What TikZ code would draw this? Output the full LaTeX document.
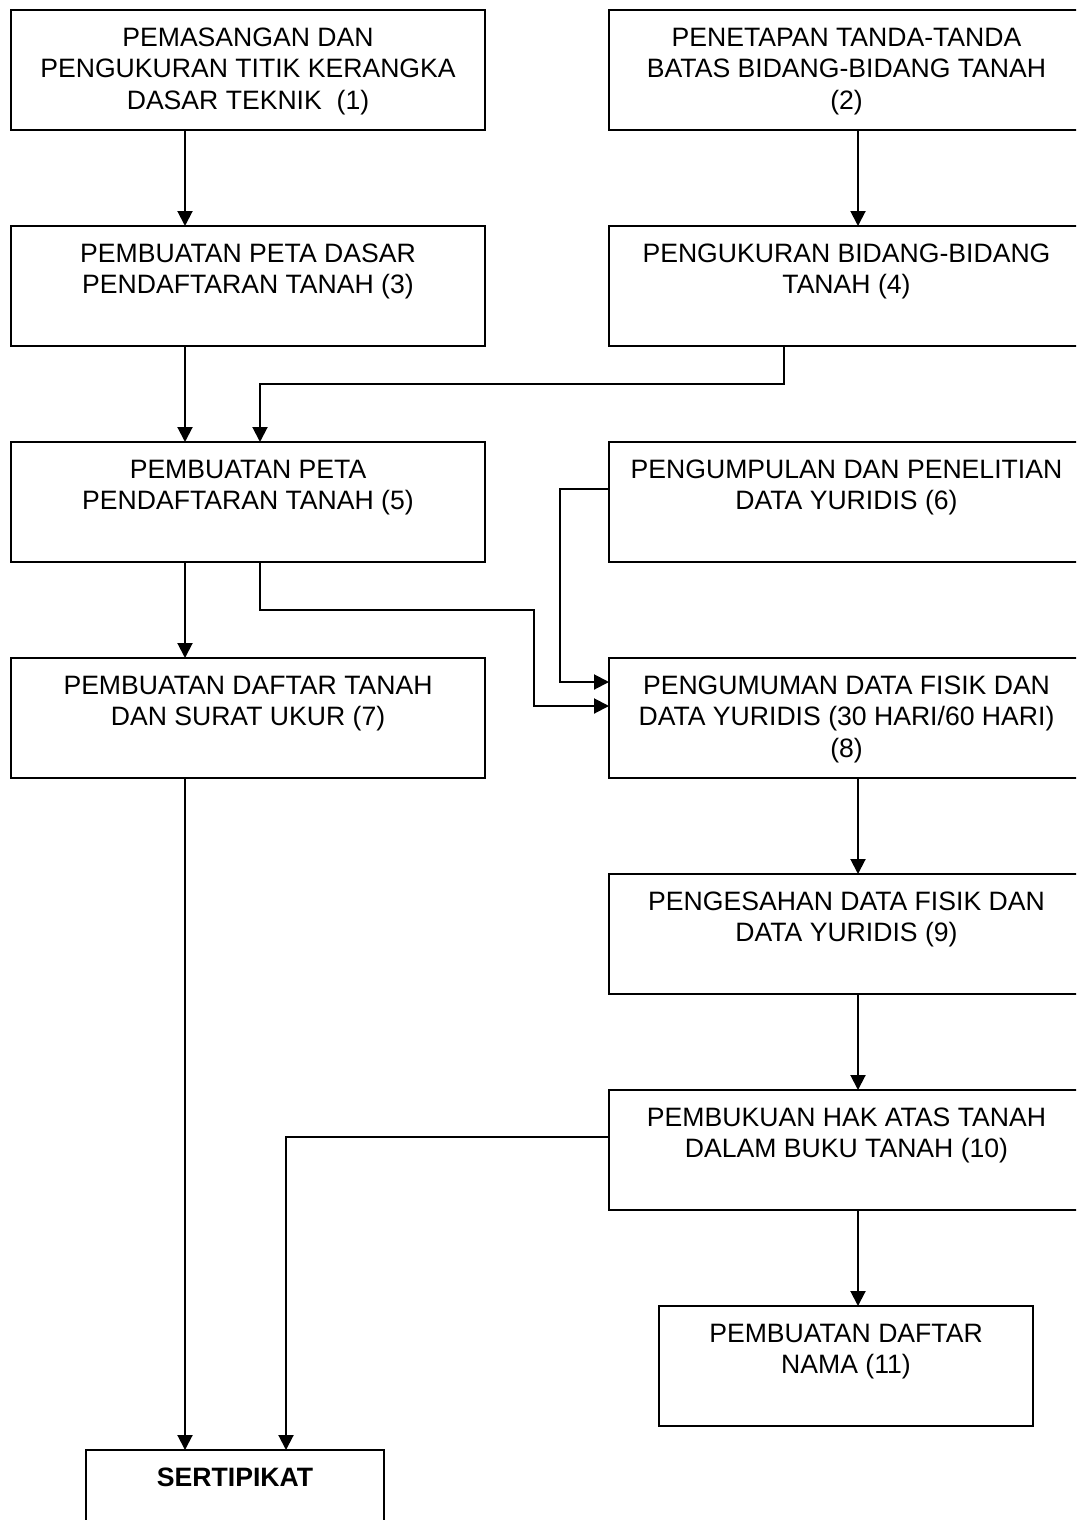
\documentclass[tikz,border=0pt]{standalone}
\usepackage{fontspec}
\setmainfont{Liberation Sans}
\usetikzlibrary{arrows.meta}
\begin{document}
\begin{tikzpicture}[x=0.5pt,y=-0.5pt,
 box/.style={draw, line width=1pt, rectangle, inner sep=0pt, outer sep=0pt, anchor=north west, minimum height=60pt},
 wbox/.style={box, minimum width=237pt},
 rbox/.style={box, minimum width=237.5pt},
 lbl/.style={anchor=north, inner sep=0pt, align=center, font=\fontsize{13.3pt}{15.75pt}\selectfont, yshift=-8.75pt},
 arr/.style={line width=1pt, -{Triangle[length=7.5pt,width=7.5pt]}}]
\useasboundingbox (0,0) rectangle (1076,1520);
\fill[white] (0,0) rectangle (1076,1520);
\clip (0,0) rectangle (1076,1520);
% boxes
\node[wbox] (b1) at (11,10) {};
\node[rbox] (b2) at (609,10) {};
\node[wbox] (b3) at (11,226) {};
\node[rbox] (b4) at (609,226) {};
\node[wbox] (b5) at (11,442) {};
\node[rbox] (b6) at (609,442) {};
\node[wbox] (b7) at (11,658) {};
\node[rbox] (b8) at (609,658) {};
\node[rbox] (b9) at (609,874) {};
\node[rbox] (b10) at (609,1090) {};
\node[box, minimum width=187pt] (b11) at (659,1306) {};
\node[box, minimum width=149pt] (bs) at (86,1450) {};
% texts
\node[lbl] (t1) at (b1.north) {PEMASANGAN DAN\\PENGUKURAN TITIK KERANGKA\\DASAR TEKNIK\ \ (1)};
\node[lbl] (t2) at (b2.north) {PENETAPAN TANDA-TANDA\\BATAS BIDANG-BIDANG TANAH\\(2)};
\node[lbl] (t3) at (b3.north) {PEMBUATAN PETA DASAR\\PENDAFTARAN TANAH (3)};
\node[lbl] (t4) at (b4.north) {PENGUKURAN BIDANG-BIDANG\\TANAH (4)};
\node[lbl] (t5) at (b5.north) {PEMBUATAN PETA\\PENDAFTARAN TANAH (5)};
\node[lbl] (t6) at (b6.north) {PENGUMPULAN DAN PENELITIAN\\DATA YURIDIS (6)};
\node[lbl] (t7) at (b7.north) {PEMBUATAN DAFTAR TANAH\\DAN SURAT UKUR (7)};
\node[lbl] (t8) at (b8.north) {PENGUMUMAN DATA FISIK DAN\\DATA YURIDIS (30 HARI/60 HARI)\\(8)};
\node[lbl] (t9) at (b9.north) {PENGESAHAN DATA FISIK DAN\\DATA YURIDIS (9)};
\node[lbl] (t10) at (b10.north) {PEMBUKUAN HAK ATAS TANAH\\DALAM BUKU TANAH (10)};
\node[lbl] (t11) at (b11.north) {PEMBUATAN DAFTAR\\NAMA (11)};
\node[lbl, font=\fontsize{13.3pt}{15.75pt}\selectfont\bfseries] (ts) at (bs.north) {SERTIPIKAT};
% connectors
\draw[arr] ([xshift=87pt]b1.south west) -- ([xshift=87pt]b3.north west);
\draw[arr] ([xshift=124.5pt]b2.south west) -- ([xshift=124.5pt]b4.north west);
\draw[arr] ([xshift=87pt]b3.south west) -- ([xshift=87pt]b5.north west);
\draw[arr] ([xshift=87.5pt]b4.south west) -- ++(0,38) -| ([xshift=124.5pt]b5.north west);
\draw[arr] ([xshift=87pt]b5.south west) -- ([xshift=87pt]b7.north west);
\draw[arr] ([yshift=-23.5pt]b6.north west) -- ++(-49,0) |- ([yshift=-12pt]b8.north west);
\draw[arr] ([xshift=124.5pt]b5.south west) -- ++(0,48) -- ++(274,0) |- ([yshift=-24pt]b8.north west);
\draw[arr] ([xshift=124.5pt]b8.south west) -- ([xshift=124.5pt]b9.north west);
\draw[arr] ([xshift=124.5pt]b9.south west) -- ([xshift=124.5pt]b10.north west);
\draw[arr] ([xshift=124.5pt]b10.south west) -- ([xshift=99.5pt]b11.north west);
\draw[arr] ([xshift=87pt]b7.south west) -- ([xshift=49.5pt]bs.north west);
\draw[arr] ([yshift=-23.5pt]b10.north west) -| ([xshift=100pt]bs.north west);
\end{tikzpicture}
\end{document}
